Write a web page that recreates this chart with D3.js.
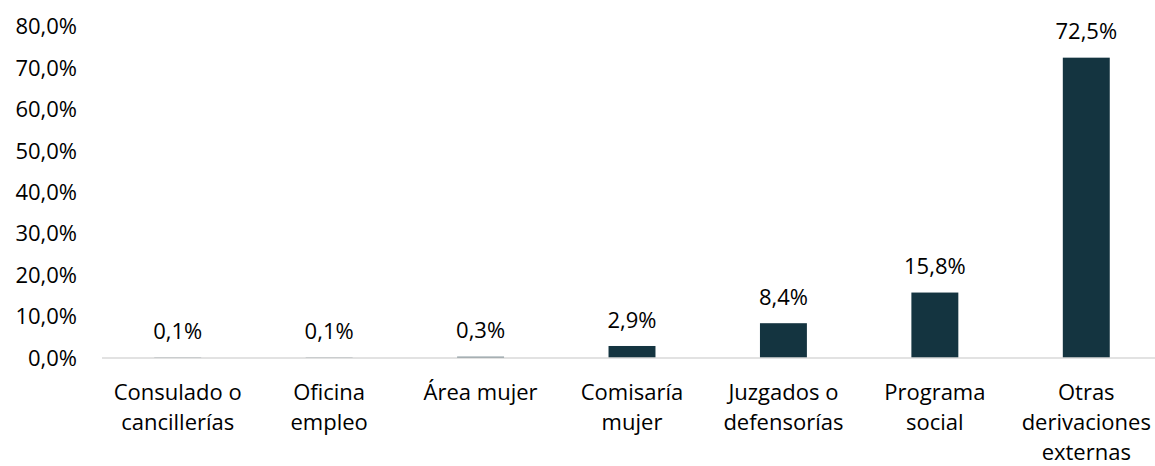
<!DOCTYPE html>
<html>
<head>
<meta charset="utf-8">
<script src="https://cdn.jsdelivr.net/npm/d3@7"></script>
<style>
  body { margin: 0; background: #fff; }
  svg { display: block; font-family: "Open Sans", sans-serif; }
</style>
</head>
<body>
<div id="chart"></div>
<script>
// Data
var categories = [
    ["Consulado o", "cancillerías"],
    ["Oficina", "empleo"],
    ["Área mujer"],
    ["Comisaría", "mujer"],
    ["Juzgados o", "defensorías"],
    ["Programa", "social"],
    ["Otras", "derivaciones", "externas"]
];
var values = [0.1, 0.1, 0.3, 2.9, 8.4, 15.8, 72.5];
var yTicks = [0, 10, 20, 30, 40, 50, 60, 70, 80];

var width = 1155, height = 466;
var fontSize = 22;
var fmt = v => v.toFixed(1).replace(".", ",") + "%";

var svg = d3.select("#chart").append("svg")
    .attr("width", width)
    .attr("height", height);

var x = d3.scaleBand()
    .domain(d3.range(values.length))
    .range([102, 1162])
    .paddingInner(0.69)
    .paddingOuter(0.345);

var y = d3.scaleLinear()
    .domain([0, 80])
    .range([358, 26.6]);

// y tick labels
svg.append("g").selectAll("text")
    .data(yTicks)
    .enter().append("text")
    .attr("x", 77)
    .attr("y", d => y(d))
    .attr("dy", "0.35em")
    .attr("text-anchor", "end")
    .attr("font-size", fontSize)
    .attr("fill", "#000")
    .text(d => fmt(d));

// bars
svg.append("g").selectAll("rect")
    .data(values)
    .enter().append("rect")
    .attr("x", (d, i) => x(i))
    .attr("y", d => y(d))
    .attr("width", x.bandwidth())
    .attr("height", d => y(0) - y(d))
    .attr("fill", "#143440");

// baseline
svg.append("line")
    .attr("x1", 102).attr("x2", width)
    .attr("y1", y(0)).attr("y2", y(0))
    .attr("stroke", "#d9d9d9")
    .attr("stroke-width", 1.5);

// value labels
svg.append("g").selectAll("text")
    .data(values)
    .enter().append("text")
    .attr("x", (d, i) => x(i) + x.bandwidth() / 2)
    .attr("y", d => y(d) - 26)
    .attr("dy", "0.35em")
    .attr("text-anchor", "middle")
    .attr("font-size", fontSize)
    .attr("fill", "#000")
    .text(d => fmt(d));

// category labels, one tspan per line
var cat = svg.append("g").selectAll("text")
    .data(categories)
    .enter().append("text")
    .attr("x", (d, i) => x(i) + x.bandwidth() / 2)
    .attr("y", 400)
    .attr("text-anchor", "middle")
    .attr("font-size", fontSize)
    .attr("fill", "#000");

cat.selectAll("tspan")
    .data((d, i) => d.map(t => ({ t: t, i: i })))
    .enter().append("tspan")
    .attr("x", d => x(d.i) + x.bandwidth() / 2)
    .attr("dy", (d, j) => j === 0 ? 0 : 30)
    .text(d => d.t);
</script>
</body>
</html>
